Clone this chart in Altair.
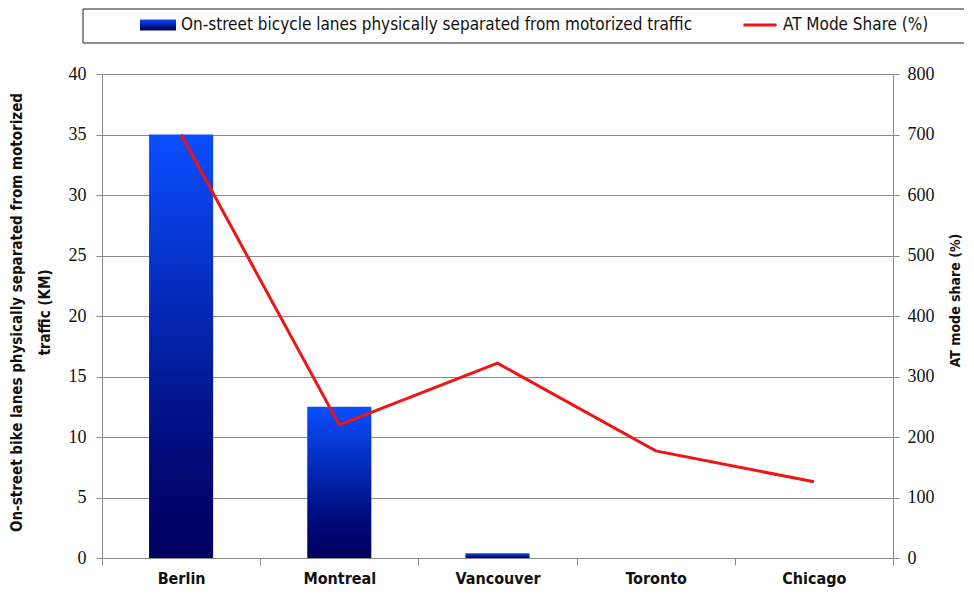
import altair as alt
import pandas as pd

cities = ["Berlin", "Montreal", "Vancouver", "Toronto", "Chicago"]
lanes_km = [35, 12.5, 0.4, 0, 0]
at_share = [700, 220, 322, 177, 126]
bar_label = "On-street bicycle lanes physically separated from motorized traffic"
line_label = "AT Mode Share (%)"
left_title = ["On-street bike lanes physically separated from motorized", "traffic (KM)"]
right_title = "AT mode share (%)"
left_ticks = [0, 5, 10, 15, 20, 25, 30, 35, 40]
right_ticks = [0, 100, 200, 300, 400, 500, 600, 700, 800]

df = pd.DataFrame({
    "city": cities,
    "km": lanes_km,
    "share": at_share,
    "bar_series": [bar_label] * len(cities),
    "line_series": [line_label] * len(cities),
})
frame_df = pd.DataFrame({"k": [0]})

GRAY = "#8a8a8a"
TICK_FONT = "Liberation Serif"
TEXT_FONT = "Liberation Sans Narrow, DejaVu Sans Condensed, Lato"

x_enc = alt.X(
    "city:N", sort=cities, title=None,
    scale=alt.Scale(paddingInner=0, paddingOuter=0),
    axis=alt.Axis(
        tickBand="extent", labelAngle=0, labelFont=TEXT_FONT, labelFontSize=16,
        labelFontWeight="bold", labelColor="#111", labelPadding=5, tickSize=7,
        tickColor=GRAY, domainColor=GRAY, grid=False,
    ),
)

gradient = alt.LinearGradient(
    gradient="linear",
    stops=[
        alt.GradientStop(color="#00005e", offset=0),
        alt.GradientStop(color="#000a7a", offset=0.25),
        alt.GradientStop(color="#0a4eff", offset=1),
    ],
    x1=0, x2=0, y1=1, y2=0,
)

bars = alt.Chart(df).mark_bar(color=gradient, width=alt.RelativeBandSize(0.405)).encode(
    x=x_enc,
    y=alt.Y(
        "km:Q", title=left_title,
        scale=alt.Scale(domain=[0, 40], nice=False),
        axis=alt.Axis(
            values=left_ticks, grid=True, gridColor=GRAY, tickColor=GRAY, domainColor=GRAY,
            tickSize=6, labelPadding=10, labelFont=TICK_FONT, labelFontSize=18, labelColor="#111",
            titleFont=TEXT_FONT, titleFontSize=15, titleFontWeight="bold", titleColor="#111",
            titleAngle=270, titleBaseline="middle", titleLineHeight=28,
            titleX=-86, titleY=238,
        ),
    ),
    opacity=alt.Opacity(
        "bar_series:O",
        scale=alt.Scale(type="point", domain=[bar_label], range=[1, 1]),
        legend=alt.Legend(
            title=None, orient="none", legendX=38, legendY=-67, padding=0,
            symbolType="M-1,-0.3H1V0.3H-1Z", symbolSize=1296,
            symbolFillColor="#0b2fc8", symbolStrokeWidth=0, symbolOpacity=1,
            labelFont=TEXT_FONT, labelFontSize=17, labelColor="#111", labelLimit=0, labelOffset=5,
        ),
    ),
)

line = alt.Chart(df).mark_line(strokeWidth=3).encode(
    x=alt.X("city:N", sort=cities),
    y=alt.Y(
        "share:Q", title=right_title,
        scale=alt.Scale(domain=[0, 800], nice=False),
        axis=alt.Axis(
            orient="right", values=right_ticks, grid=False, tickColor=GRAY, domainColor=GRAY,
            tickSize=6, labelPadding=8, labelFont=TICK_FONT, labelFontSize=18, labelColor="#111",
            titleFont=TEXT_FONT, titleFontSize=14, titleFontWeight="bold", titleColor="#111",
            titleAngle=270, titleBaseline="middle", titleX=62, titleY=226,
        ),
    ),
    color=alt.Color(
        "line_series:N",
        scale=alt.Scale(domain=[line_label], range=["#f01414"]),
        legend=alt.Legend(
            title=None, orient="none", legendX=640, legendY=-67, padding=0,
            symbolType="stroke", symbolSize=1089, symbolStrokeWidth=3,
            labelFont=TEXT_FONT, labelFontSize=17, labelColor="#111", labelLimit=0, labelOffset=5,
        ),
    ),
)

frame = alt.Chart(frame_df).mark_rect(fillOpacity=0, stroke="#222", strokeWidth=1).encode(
    x=alt.value(-19), x2=alt.value(864), y=alt.value(-65), y2=alt.value(-31),
)

chart = alt.layer(bars, line, frame).resolve_scale(y="independent").properties(
    width=791, height=484,
    autosize=alt.AutoSizeParams(type="none"),
    padding={"left": 94, "top": 66, "right": 71, "bottom": 32},
    background="white",
).configure_view(strokeWidth=0)

chart.save("out.html", embed_options={"renderer": "svg", "actions": False})
